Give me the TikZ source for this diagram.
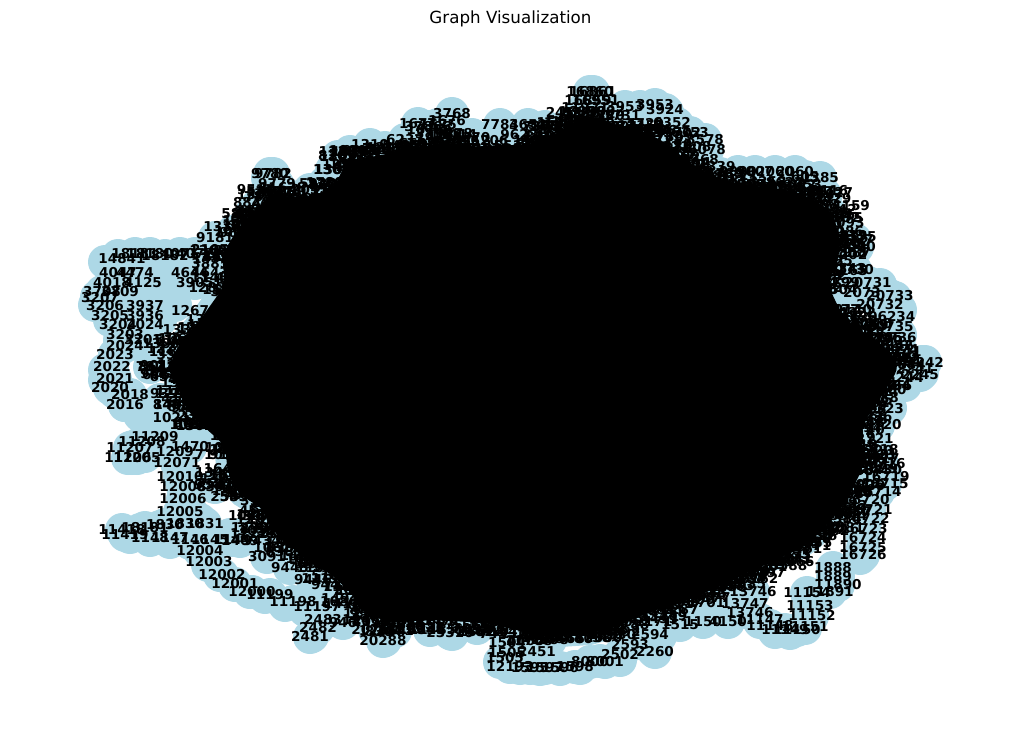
\documentclass[tikz,border=0pt]{standalone}
\usepackage{fontspec}
\setmainfont{DejaVu Sans}
\definecolor{nodeblue}{RGB}{173,216,230}
\tikzset{
  bubble/.style={circle,fill=nodeblue,draw=none,inner sep=0pt,minimum size=34pt},
  numlabel/.style={inner sep=0pt,font=\fontsize{13.6}{13.6}\selectfont\bfseries,text=black},
  titlelabel/.style={inner sep=0pt,font=\fontsize{16.7}{16.7}\selectfont,text=black}
}
% x / y / label
\def\labelled{
593/92/16861,590/92/16860,588/101/16859,596/101/16951,582/112/16858,568/125/16857,560/133/16856,
625/107/3953,655/105/3953,665/110/3924,672/123/6352,690/133/6353,705/140/8578,707/150/6078,700/160/1768,695/172/1769,
452/114/3768,447/121/1676,438/125/1675,428/127/37866,418/124/1677,430/130/16756,
500/125/7784,528/125/3652,545/127/3652,
405/140/6237,370/145/1310,385/148/1219,350/152/1310,338/157/1309,332/170/1308,
738/172/9000,755/172/9007,775/172/2060,795/172/2060,805/177/605,820/178/1385,825/195/1387,820/205/1388,830/213/1389,845/232/9086,855/240/9087,857/247/9090,
855/270/2730,868/283/20731,862/293/2073,890/296/20733,880/305/20732,887/317/206234,890/327/20735,893/338/20736,900/350/2074,925/362/2242,915/368/2241,920/375/2245,905/377/2244,
885/409/1323,878/425/22720,870/438/22721,
875/450/16718,876/459/16717,882/464/16716,886/477/16719,885/484/16715,878/492/16714,866/500/16720,869/510/16721,866/519/16722,864/529/16723,863/538/16724,863/548/16725,863/555/16726,
833/568/1888,833/577/1889,838/585/11890,830/592/11891,807/593/11154,810/606/11153,812/616/11152,805/627/11151,797/630/11150,785/630/11149,770/626/11148,760/620/11147,
753/592/13746,745/604/13747,750/613/13746,703/622/1150,728/622/4150,680/625/1515,
655/652/2260,650/635/2594,620/655/2502,630/645/2593,605/662/8001,590/662/8000,575/667/1598,
560/668/1596,545/668/1597,530/668/1595,510/667/12193,505/658/1505,507/653/1505,507/643/1504,537/652/2451,550/640/1598,
450/633/23310,383/641/20288,375/630/20710,395/631/2071,
310/637/2481,318/628/2482,323/620/2483,343/623/946,
317/607/11197,293/602/11198,270/595/11199,252/592/12000,235/584/12001,222/575/12002,209/562/12003,200/551/12004,
240/541/1409,262/541/9434,267/557/3091,290/568/9445,313/580/9446,330/585/9447,353/590/2094,
122/530/11418,125/535/11419,145/528/18181,165/525/1830,185/524/1830,205/524/1831,150/538/1148,170/538/1147,190/540/1146,210/540/1145,232/540/1144,
180/512/12005,183/499/12006,183/487/12008,215/487/6391,180/477/12010,177/463/12071,
155/437/11209,142/442/11208,130/448/11207,128/458/11206,137/458/11205,
190/447/1470,175/452/1209,
125/405/2016,130/395/2018,110/388/2020,115/379/2021,112/367/2022,150/367/782,115/355/2023,125/346/2024,143/340/3201,125/335/3203,118/325/3204,145/325/2024,110/316/3205,145/316/3936,105/306/3206,145/306/3937,100/298/3207,102/292/3708,120/292/3709,
112/283/4018,143/283/4125,195/283/3905,118/273/4047,135/273/4474,190/273/4644,210/273/4643,
122/259/14841,135/254/18181,150/254/18180,165/256/18182,180/254/4071,195/254/4072,210/250/2105,
215/238/9181,233/232/1009,252/213/8912,270/174/9780,273/174/9782,277/184/9779,283/192/9778,310/190/2035,325/183/1780,333/170/1309
}
% further discs with no legible number
\def\blueonly{
593/94,640/107,667/112,677/124,697/147,720/174,743/175,763/176,783/179,810/184,825/197,845/232,850/247,852/275,880/285,895/298,900/310,900/335,922/362,922/373,905/385,890/408,878/425,870/440,
860/558,838/577,830/588,810/595,812/606,812/616,805/628,790/633,775/632,760/622,740/608,715/615,
520/668,540/669,560/669,580/668,600/661,620/660,653/650,660/636,500/662,510/655,
430/630,452/634,477/628,385/640,375/628,
312/636,320/625,335/620,345/615,325/615,305/610,285/605,265/597,250/592,235/585,220/575,208/565,
280/555,296/563,310/570,
125/533,140/530,160/527,180/522,200/520,130/537,150/540,170/542,190/543,210/540,230/535,240/535,
183/477,185/495,190/510,
133/447,130/450,132/458,145/456,160/445,
150/418,140/415,125/405,115/392,105/380,105/370,115/355,120/340,110/320,95/305,97/297,113/290,
118/256,105/262,115/275,153/258,172/258,192/256,225/244,243/235,258/205,268/178,
160/275,168/290,175/305,140/300,160/320,150/350,160/400,175/425,
350/165,378/155,395/165,412/147,430/140,452/129,472/135,497/132,525/145,545/150,565/137
}
% outline of the mass of overlapping numbers
\def\massoutline{(347,160) -- (372,157) -- (395,152) -- (420,147) -- (445,143) -- (470,147) -- (500,145) -- (530,145) -- (555,135) -- (575,122) -- (595,115) -- (615,125) -- (640,130) -- (665,142) -- (680,155) -- (700,170) -- (733,183) -- (760,188) -- (790,190) -- (815,200) -- (833,213) -- (840,240) -- (838,262) -- (827,283) -- (843,317) -- (860,330) -- (880,343) -- (893,355) -- (900,366) -- (890,382) -- (875,407) -- (860,427) -- (862,445) -- (865,463) -- (852,490) -- (840,510) -- (828,523) -- (812,540) -- (797,550) -- (780,558) -- (760,563) -- (740,576) -- (727,583) -- (700,595) -- (675,604) -- (650,612) -- (620,625) -- (590,634) -- (560,636) -- (530,634) -- (500,625) -- (470,622) -- (430,620) -- (395,622) -- (365,615) -- (353,595) -- (330,573) -- (310,563) -- (285,542) -- (268,525) -- (265,510) -- (240,495) -- (228,475) -- (225,445) -- (205,428) -- (185,408) -- (177,385) -- (170,365) -- (178,345) -- (200,320) -- (225,285) -- (222,255) -- (240,225) -- (255,212) -- (268,195) -- (300,198) -- (333,190) -- cycle}
\def\fringe{347/160,372/157,395/152,420/147,445/143,470/147,500/145,530/145,555/135,575/122,595/115,615/125,640/130,665/142,680/155,700/170,733/183,760/188,790/190,815/200,833/213,840/240,838/262,827/283,843/317,860/330,880/343,893/355,880/390,870/407,855/427,862/445,865/463,852/490,840/510,828/523,812/540,797/550,780/558,760/563,740/576,727/583,700/595,675/604,650/612,620/625,590/632,560/633,530/632,500/625,470/622,430/620,395/622,365/615,353/595,330/573,310/563,285/542,268/525,265/510,240/495,228/475,225/445,205/428,185/408,177/385,170/365,178/345,200/320,225/285,222/255,240/225,255/212,268/195,300/198,333/190}
\begin{document}
\begin{tikzpicture}[x=1pt,y=-1pt]
\useasboundingbox (0,0) rectangle (1019,742);
\node[titlelabel] (title) at (510.5,18.5) {Graph Visualization};
% filling between the rim of discs and the mass
\filldraw[nodeblue,line width=22pt,line join=round] \massoutline;
\foreach \x/\y in \blueonly { \node[bubble] at (\x,\y) {}; }
\foreach \x/\y/\t in \labelled { \node[bubble] (d\t) at (\x,\y) {}; }
\fill[black,rounded corners=10pt] \massoutline;
\pgfmathsetseed{4242}
\foreach \x/\y [count=\i] in \fringe {
  \foreach \k in {1,...,8} {
    \pgfmathsetmacro{\dx}{rand*15}
    \pgfmathsetmacro{\dy}{rand*10}
    \pgfmathrandominteger{\num}{1000}{16000}
    \node[numlabel] (f\i-\k) at (\x+\dx,\y+\dy) {\num};
  }
}
\foreach \x/\y/\t in \labelled { \node[numlabel] (t\t) at (\x,\y) {\t}; }
\end{tikzpicture}
\end{document}
